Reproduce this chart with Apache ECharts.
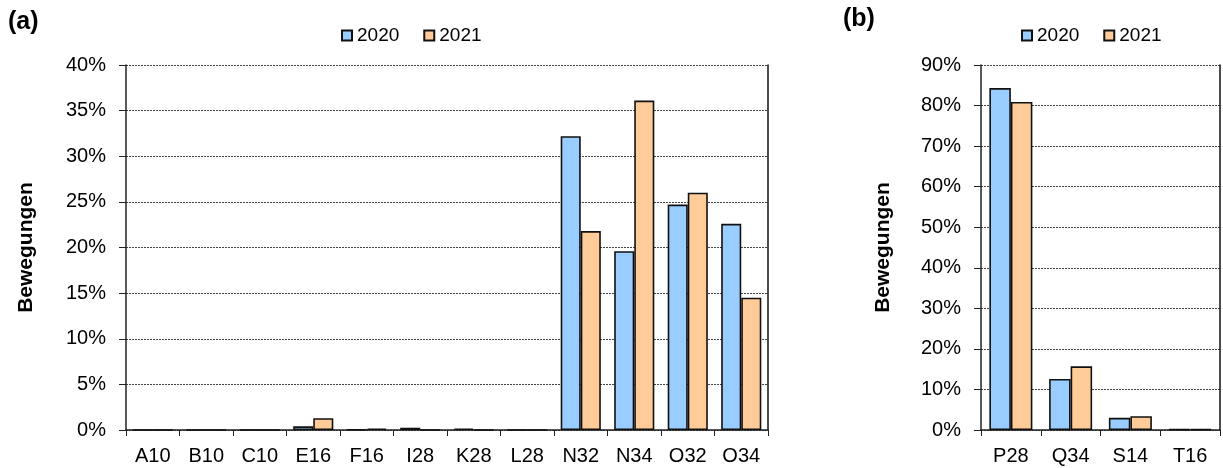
<!DOCTYPE html>
<html>
<head>
<meta charset="utf-8">
<script src="https://cdn.jsdelivr.net/npm/echarts@6/dist/echarts.min.js"></script>
<style>
  html, body { margin: 0; padding: 0; background: #fff; }
  #chart { width: 1223px; height: 468px; }
</style>
</head>
<body>
<div id="chart"></div>
<script>
// Panel (a): movement share per runway / position (percent)
const catsA = ['A10', 'B10', 'C10', 'E16', 'F16', 'I28', 'K28', 'L28', 'N32', 'N34', 'O32', 'O34'];
const a2020 = [0, 0, 0, 0.4, 0.05, 0.25, 0.15, 0, 32.2, 19.6, 24.7, 22.6];
const a2021 = [0, 0, 0, 1.3, 0.15, 0, 0, 0, 21.8, 36.1, 26.0, 14.5];

// Panel (b)
const catsB = ['P28', 'Q34', 'S14', 'T16'];
const b2020 = [84.3, 12.6, 3.0, 0.2];
const b2021 = [80.9, 15.7, 3.4, 0.2];

const years = ['2020', '2021'];
const colors = ['#99CCFF', '#FFCC99'];

const FONT = '"Liberation Sans", Arial, sans-serif';
const tickFont = { fontFamily: FONT, fontSize: 20, color: '#000' };

function valueAxis(gridIndex, max, interval) {
  return {
    type: 'value', gridIndex, min: 0, max, interval,
    name: 'Bewegungen', nameLocation: 'middle', nameGap: 89,
    nameTextStyle: { fontFamily: FONT, fontSize: 21, fontWeight: 'bold', color: '#000' },
    axisLine: { show: true, lineStyle: { color: '#222', width: 1.5 } },
    axisTick: { show: true, length: 7, lineStyle: { color: '#222', width: 1 } },
    axisLabel: Object.assign({ margin: 20, formatter: '{value}%' }, tickFont),
    splitLine: { show: true, lineStyle: { color: '#444', width: 1, type: [2, 1] } }
  };
}
function rightBorder(gridIndex, max) {
  return {
    type: 'value', gridIndex, min: 0, max, position: 'right',
    axisLine: { show: true, lineStyle: { color: '#111', width: 1.5 } },
    axisTick: { show: false }, axisLabel: { show: false }, splitLine: { show: false }
  };
}
function catAxis(gridIndex, data) {
  return {
    type: 'category', gridIndex, data,
    axisLine: { show: true, lineStyle: { color: '#222', width: 1.5 } },
    axisTick: { show: true, length: 6, lineStyle: { color: '#222', width: 1 } },
    axisLabel: Object.assign({ margin: 16, interval: 0 }, tickFont)
  };
}
function bars(name, data, idx, color, gap) {
  return {
    type: 'bar', name, data, xAxisIndex: idx, yAxisIndex: idx * 2,
    barGap: '0%', barCategoryGap: gap,
    itemStyle: { color, borderColor: '#111', borderWidth: 1.6 },
    emphasis: { disabled: true }, animation: false
  };
}
function legend(left) {
  return {
    data: years, left, top: 21, itemWidth: 10, itemHeight: 10, itemGap: 24,
    icon: 'rect',
    textStyle: { fontFamily: FONT, fontSize: 19, color: '#000' }
  };
}

const chart = echarts.init(document.getElementById('chart'), null, { renderer: 'canvas' });
const yA = valueAxis(0, 40, 5);
const yB = valueAxis(1, 90, 10);
yB.nameGap = 87;

chart.setOption({
  animation: false,
  grid: [
    { left: 126, right: 455, top: 65, bottom: 38 },
    { left: 981, right: 3, top: 65, bottom: 38 }
  ],
  legend: [legend(336), legend(1016)],
  xAxis: [catAxis(0, catsA), catAxis(1, catsB)],
  yAxis: [yA, rightBorder(0, 40), yB, rightBorder(1, 90)],
  series: [
    bars(years[0], a2020, 0, colors[0], '25%'),
    bars(years[1], a2021, 0, colors[1], '25%'),
    bars(years[0], b2020, 1, colors[0], '28%'),
    bars(years[1], b2021, 1, colors[1], '28%')
  ],
  graphic: [
    { type: 'text', left: 8, top: 10, style: { text: '(a)', font: 'bold 25px ' + FONT, fill: '#000' } },
    { type: 'text', left: 843, top: 7, style: { text: '(b)', font: 'bold 25px ' + FONT, fill: '#000' } }
  ]
});
</script>
</body>
</html>
